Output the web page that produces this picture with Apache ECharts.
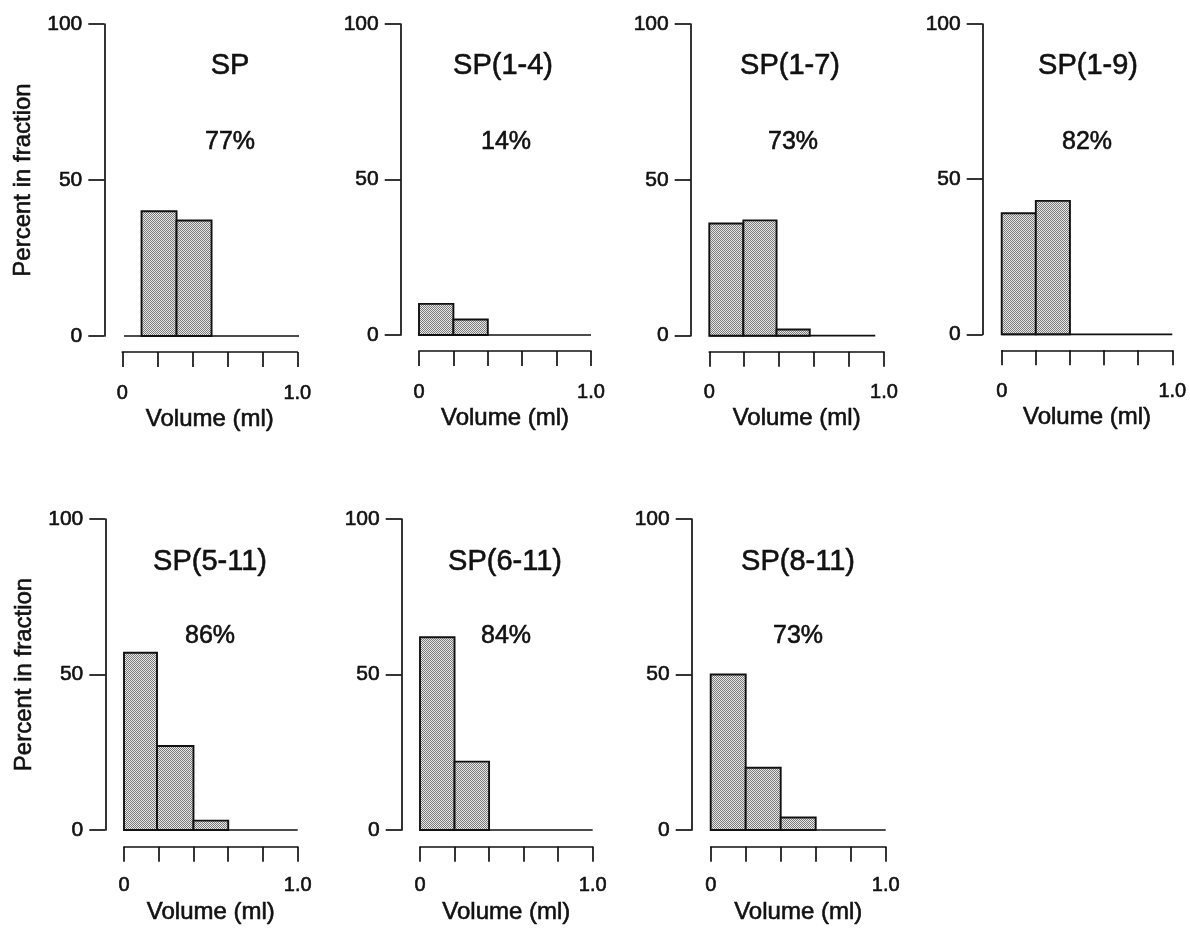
<!DOCTYPE html>
<html>
<head>
<meta charset="utf-8">
<script src="https://cdn.jsdelivr.net/npm/echarts@6/dist/echarts.min.js"></script>
<style>
  html, body { margin: 0; padding: 0; background: #fff; }
  #main { width: 1190px; height: 929px; }
</style>
</head>
<body>
<div id="main"></div>
<script>
// ---- chart data ----
const panelNames = ['SP', 'SP(1-4)', 'SP(1-7)', 'SP(1-9)', 'SP(5-11)', 'SP(6-11)', 'SP(8-11)'];
const panelPercents = ['77%', '14%', '73%', '82%', '86%', '84%', '73%'];
// histogram bin edges (ml) and heights (percent in fraction)
const binEdges = [
  [0.11, 0.31, 0.51],
  [0, 0.2, 0.4],
  [0, 0.195, 0.385, 0.575],
  [0, 0.2, 0.4],
  [0, 0.19, 0.4, 0.6],
  [0, 0.2, 0.4],
  [0, 0.2, 0.4, 0.6],
];
const binHeights = [
  [40, 37],
  [10, 5],
  [36, 37, 2],
  [39, 43],
  [57, 27, 3],
  [62, 22],
  [50, 20, 4],
];
// extent of the zero line drawn under each histogram (ml)
const baselineExtent = [[0.01, 1.11], [0, 1], [0, 0.95], [0, 1], [0, 1], [0, 1], [0, 1]];
const xTickLabels = { 0: '0', 1: '1.0' };
const xAxisName = 'Volume (ml)';
const yAxisName = 'Percent in fraction';

// ---- layout (pixels) ----
const panelBoxes = [
  { left: 122.3, top: 24, width: 175, height: 312, yOff: 18, row: 0, tx: 230, px: 230 },
  { left: 419, top: 24, width: 172, height: 311, yOff: 18.3, row: 0, tx: 503, px: 506 },
  { left: 709.3, top: 24, width: 174.7, height: 311.7, yOff: 18.6, row: 0, tx: 790, px: 793 },
  { left: 1001.7, top: 24, width: 170.6, height: 310.3, yOff: 19, row: 0, tx: 1088, px: 1087 },
  { left: 124, top: 519, width: 173.7, height: 311, yOff: 18.7, row: 1, tx: 210, px: 210 },
  { left: 420, top: 519, width: 172.7, height: 311, yOff: 18.3, row: 1, tx: 505, px: 506 },
  { left: 710.7, top: 519, width: 175, height: 311, yOff: 19, row: 1, tx: 798, px: 798 },
];
const rowText = [
  { titleY: 66, pctY: 142, xOff: 16, labelMargin: 31, nameGap: 55 },
  { titleY: 562, pctY: 636, xOff: 16.7, labelMargin: 29, nameGap: 54 },
];

const FONT = '"Liberation Sans", Arial, Helvetica, sans-serif';
const INK = '#111';
const HALO = 0.6; // thin outline to thicken the glyphs a little

// stippled fill for the bars
function makeStipple() {
  const c = document.createElement('canvas');
  c.width = 2;
  c.height = 2;
  const ctx = c.getContext('2d');
  ctx.fillStyle = '#e8e8e8';
  ctx.fillRect(0, 0, 2, 2);
  ctx.fillStyle = '#7a7a7a';
  ctx.fillRect(0, 0, 1, 1);
  ctx.fillRect(1, 1, 1, 1);
  return { image: c, repeat: 'repeat' };
}
const stipple = makeStipple();

const grids = [];
const xAxes = [];
const yAxes = [];
const series = [];
const graphics = [];

const textBase = { fontFamily: FONT, color: INK, textBorderColor: INK, textBorderWidth: HALO };

panelBoxes.forEach(function (b, i) {
  const rt = rowText[b.row];
  const firstInRow = i === 0 || i === 4;
  grids.push({ left: b.left, top: b.top, width: b.width, height: b.height, containLabel: false });

  xAxes.push({
    gridIndex: i,
    type: 'value',
    min: 0,
    max: 1,
    interval: 0.2,
    offset: rt.xOff,
    name: xAxisName,
    nameLocation: 'middle',
    nameGap: rt.nameGap,
    nameTextStyle: Object.assign({ fontSize: 24 }, textBase),
    axisLine: { show: true, onZero: false, lineStyle: { color: INK, width: 1.7 } },
    axisTick: { show: true, inside: false, length: 15, lineStyle: { color: INK, width: 1.7 } },
    axisLabel: Object.assign({
      margin: rt.labelMargin,
      fontSize: 20,
      formatter: function (v) {
        const k = Math.round(v * 10) / 10;
        return xTickLabels[k] !== undefined ? xTickLabels[k] : '';
      },
    }, textBase),
    splitLine: { show: false },
  });

  yAxes.push({
    gridIndex: i,
    type: 'value',
    min: 0,
    max: 100,
    interval: 50,
    offset: b.yOff,
    name: firstInRow ? yAxisName : '',
    nameLocation: 'middle',
    nameRotate: 90,
    nameGap: 69,
    nameTextStyle: Object.assign({ fontSize: 24 }, textBase),
    axisLine: { show: true, onZero: false, lineStyle: { color: INK, width: 1.7 } },
    axisTick: { show: true, inside: false, length: 16, lineStyle: { color: INK, width: 1.7 } },
    axisLabel: Object.assign({ margin: 22, fontSize: 21 }, textBase),
    splitLine: { show: false },
  });

  series.push({
    type: 'line',
    xAxisIndex: i,
    yAxisIndex: i,
    data: [[baselineExtent[i][0], 0], [baselineExtent[i][1], 0]],
    symbol: 'none',
    clip: false,
    silent: true,
    z: 1,
    lineStyle: { color: INK, width: 1.7 },
  });

  const edges = binEdges[i];
  const bars = binHeights[i].map(function (h, j) {
    return [edges[j], edges[j + 1], h];
  });
  series.push({
    type: 'custom',
    xAxisIndex: i,
    yAxisIndex: i,
    data: bars,
    encode: { x: [0, 1], y: 2 },
    clip: false,
    silent: true,
    z: 2,
    renderItem: function (params, api) {
      const topLeft = api.coord([api.value(0), api.value(2)]);
      const bottomRight = api.coord([api.value(1), 0]);
      return {
        type: 'rect',
        shape: {
          x: topLeft[0],
          y: topLeft[1],
          width: bottomRight[0] - topLeft[0],
          height: bottomRight[1] - topLeft[1],
        },
        style: { fill: stipple, stroke: INK, lineWidth: 1.9 },
      };
    },
  });

  graphics.push({
    type: 'text',
    x: b.tx,
    y: rt.titleY,
    silent: true,
    style: {
      text: panelNames[i], fontFamily: FONT, fontSize: 29, fill: INK,
      stroke: INK, lineWidth: HALO, align: 'center', verticalAlign: 'middle',
    },
  });
  graphics.push({
    type: 'text',
    x: b.px,
    y: rt.pctY,
    silent: true,
    style: {
      text: panelPercents[i], fontFamily: FONT, fontSize: 25, fill: INK,
      stroke: INK, lineWidth: HALO, align: 'center', verticalAlign: 'middle',
    },
  });
});

const chart = echarts.init(document.getElementById('main'), null, { renderer: 'canvas' });
chart.setOption({
  backgroundColor: '#fff',
  animation: false,
  grid: grids,
  xAxis: xAxes,
  yAxis: yAxes,
  series: series,
  graphic: graphics,
});
</script>
</body>
</html>
